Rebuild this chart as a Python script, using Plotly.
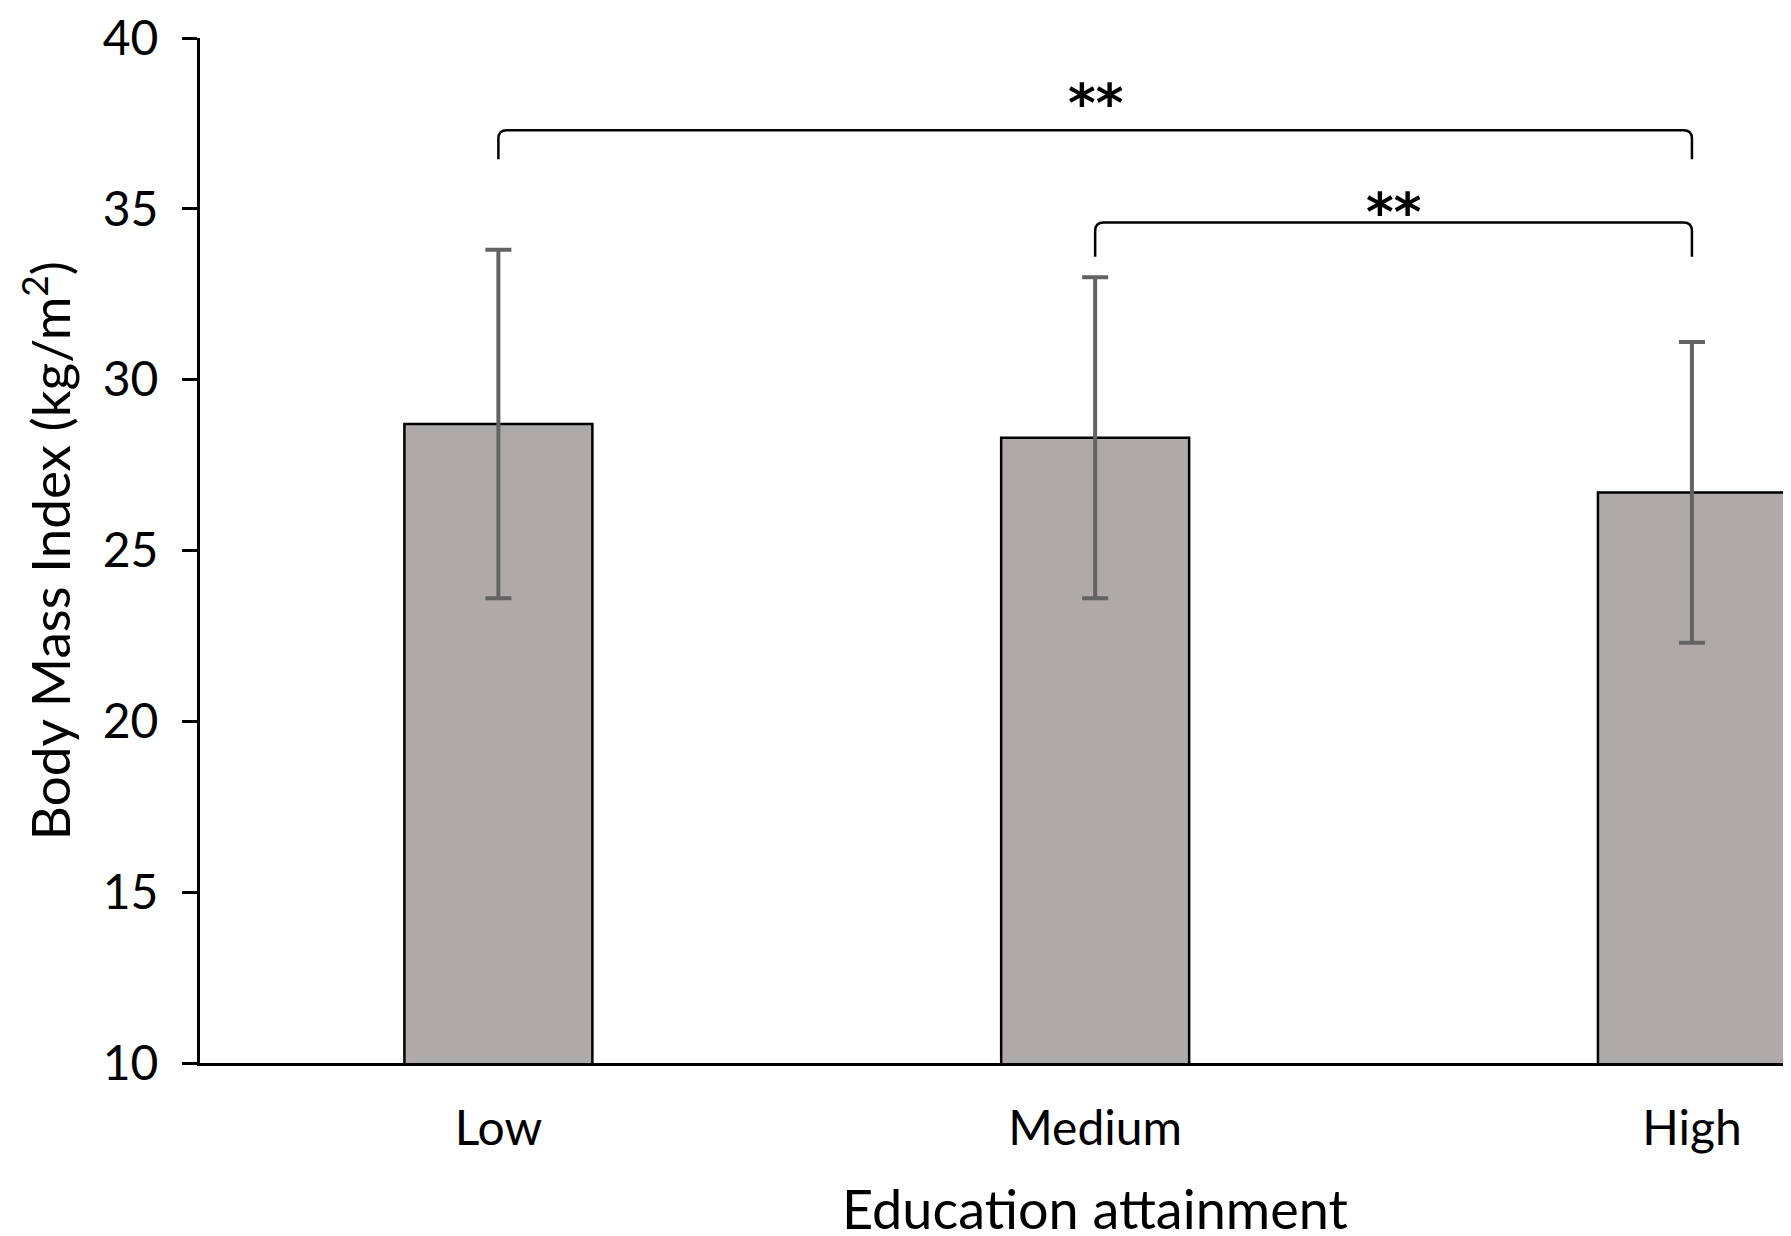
import plotly.graph_objects as go

categories = ["Low", "Medium", "High"]
bmi_mean = [28.7, 28.3, 26.7]
bmi_sd = [5.1, 4.7, 4.4]
y_ticks = [10, 15, 20, 25, 30, 35, 40]

# significance brackets: (from idx, to idx, label, bracket height, leg bottom, label centre)
brackets = [
    (0, 2, "**", 37.3, 36.45, 38.15),
    (1, 2, "**", 34.6, 33.6, 34.95),
]

FONT = "Lato"
x_pos = list(range(len(categories)))

fig = go.Figure()
fig.add_trace(go.Bar(
    x=x_pos, y=bmi_mean, width=0.315,
    marker=dict(color="#AEAAAA", line=dict(color="black", width=2.5)),
    error_y=dict(type="data", array=bmi_sd, visible=True,
                 color="#636363", thickness=4, width=13),
    showlegend=False,
))

shapes = []
annotations = []
for a, b, label, h, leg, ly in brackets:
    ex, ey = 0.014, 0.25
    path = (f"M {a},{leg} L {a},{h-ey} Q {a},{h} {a+ex},{h} "
            f"L {b-ex},{h} Q {b},{h} {b},{h-ey} L {b},{leg}")
    shapes.append(dict(type="path", path=path, xref="x", yref="y",
                       line=dict(color="black", width=2.5)))
    annotations.append(dict(x=(a + b) / 2, y=ly, xref="x", yref="y",
                            text=f"<b>{label}</b>", showarrow=False,
                            xanchor="center", yanchor="middle", yshift=-2,
                            font=dict(family="DejaVu Sans", size=53, color="black")))

annotations.append(dict(x=1, y=-0.142, xref="x", yref="paper",
                        text="Education attainment", showarrow=False,
                        xanchor="center", yanchor="middle",
                        font=dict(family=FONT, size=54, color="black")))
annotations.append(dict(x=-0.097, y=0.5, xref="paper", yref="paper",
                        text="Body Mass Index (kg/m<sup>2</sup>)", showarrow=False,
                        textangle=-90, xanchor="center", yanchor="middle",
                        font=dict(family=FONT, size=53, color="black")))

fig.update_layout(
    width=1783, height=1228,
    margin=dict(l=192, r=0, t=24, b=173),
    paper_bgcolor="white", plot_bgcolor="white",
    font=dict(family=FONT, size=48, color="black"),
    shapes=shapes, annotations=annotations,
    xaxis=dict(range=[-0.5, 2.166], tickmode="array", tickvals=x_pos,
               ticktext=categories, showline=True, linecolor="black",
               linewidth=3, ticks="", showgrid=False, zeroline=False,
               ticklabelstandoff=21, tickfont=dict(family=FONT, size=48)),
    yaxis=dict(range=[10, 40], tickmode="array", tickvals=y_ticks,
               showline=True, linecolor="black", linewidth=3,
               ticks="outside", ticklen=15, tickwidth=3, tickcolor="black",
               showgrid=False, zeroline=False, ticklabelstandoff=14,
               ticklabeloverflow="allow",
               tickfont=dict(family=FONT, size=48)),
)

fig.write_html("out.html")
